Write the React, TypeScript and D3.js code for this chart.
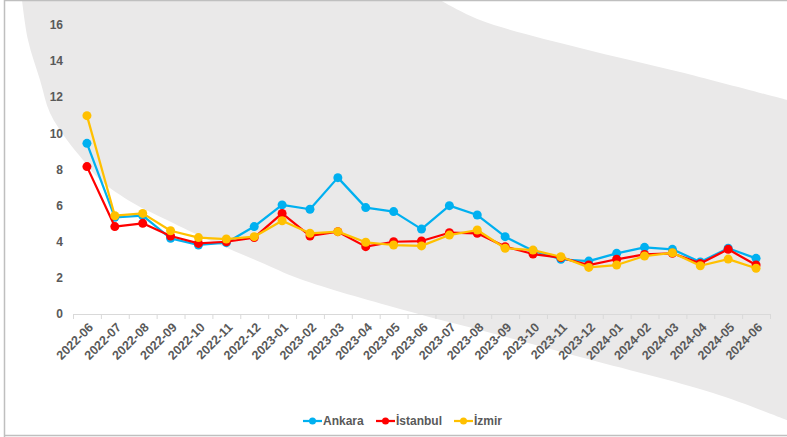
import React from "react";
import * as d3 from "d3";

const months = [
  "2022-06","2022-07","2022-08","2022-09","2022-10","2022-11","2022-12",
  "2023-01","2023-02","2023-03","2023-04","2023-05","2023-06","2023-07","2023-08","2023-09","2023-10","2023-11","2023-12",
  "2024-01","2024-02","2024-03","2024-04","2024-05","2024-06",
];
const ankara = [9.45,5.35,5.44,4.19,3.82,3.95,4.84,6.04,5.8,7.55,5.89,5.67,4.7,6.0,5.48,4.28,3.5,3.03,2.93,3.36,3.69,3.58,2.88,3.64,3.08];
const istanbul = [8.16,4.84,5.02,4.32,3.91,4.0,4.23,5.57,4.32,4.56,3.73,4.0,4.04,4.5,4.47,3.73,3.32,3.12,2.71,3.03,3.3,3.36,2.8,3.58,2.71];
const izmir = [10.98,5.44,5.57,4.61,4.23,4.15,4.28,5.16,4.47,4.56,3.97,3.82,3.77,4.37,4.65,3.64,3.54,3.17,2.58,2.71,3.21,3.39,2.67,3.04,2.53];
const yTicks = [0,2,4,6,8,10,12,14,16];

const series = [
  { name: "Ankara", values: ankara, color: "#00b0f0" },
  { name: "İstanbul", values: istanbul, color: "#ff0000" },
  { name: "İzmir", values: izmir, color: "#ffc000" },
];

// decorative background swoosh outline
const lowerEdge: [number, number][] = [[22,0],[28,40],[40,80],[50,113],[67,140],[83,160],[100,180],[133,203],[167,220],[200,236],[260,262],[300,279],[400,309],[480,330],[580,357],[713,393],[787,420]];
const upperEdge: [number, number][] = [[787,100],[680,72],[580,48],[480,20],[440,0]];

export default function App() {
  const W = 787, H = 437;
  const x = d3.scaleBand<string>().domain(months).range([73, 770]);
  const y = d3.scaleLinear().domain([0, 16]).range([314, 25]);
  const line = d3.line<number>().x((_, i) => (x(months[i]) as number) + x.bandwidth() / 2).y(v => y(v));
  const curve = d3.line().curve(d3.curveCatmullRom);
  const bgPath = curve(lowerEdge)! + "L" + curve(upperEdge)!.slice(1) + "Z";
  const font = "'Liberation Sans', Arial, sans-serif";
  const legendItems = [
    { x: 303, tx: 323 },
    { x: 376, tx: 396 },
    { x: 454, tx: 474 },
  ];
  return (
    <div style={{ position: "fixed", left: 0, top: 0 }}>
      <svg width={W} height={H} style={{ display: "block" }}>
        <rect x={0} y={0} width={W} height={H} fill="#fff" />
        <path d={bgPath} fill="#eae9e9" />
        {/* frame */}
        <path d={`M4.5,${H}V0.5H${W}M4.5,435.5H${W}`} fill="none" stroke="#bfbfbf" strokeWidth={1.5} />
        {/* y labels */}
        {yTicks.map(t => (
          <text key={t} x={63} y={y(t)} dy="0.35em" textAnchor="end" fontFamily={font} fontWeight="bold" fontSize={12} fill="#595959">{t}</text>
        ))}
        {/* x axis */}
        <line x1={73} x2={770} y1={314.5} y2={314.5} stroke="#d9d9d9" strokeWidth={1} />
        {months.map(m => (
          <line key={"t" + m} x1={(x(m) as number) + 0.5} x2={(x(m) as number) + 0.5} y1={314} y2={319} stroke="#d9d9d9" />
        ))}
        <line x1={770.5} x2={770.5} y1={314} y2={319} stroke="#d9d9d9" />
        {months.map(m => {
          const cx = (x(m) as number) + x.bandwidth() / 2 + 4;
          const cy = 325;
          return (
            <text key={"l" + m} x={cx} y={cy} transform={`rotate(-45 ${cx} ${cy})`} textAnchor="end" dy="0.35em" fontFamily={font} fontWeight="bold" fontSize={12.5} fill="#595959">{m}</text>
          );
        })}
        {/* series */}
        {series.map(s => (
          <g key={s.name}>
            <path d={line(s.values)!} fill="none" stroke={s.color} strokeWidth={2.25} strokeLinejoin="round" />
            {s.values.map((v, i) => (
              <circle key={i} cx={(x(months[i]) as number) + x.bandwidth() / 2} cy={y(v)} r={4.5} fill={s.color} />
            ))}
          </g>
        ))}
        {/* legend */}
        {series.map((s, i) => (
          <g key={"lg" + s.name}>
            <line x1={legendItems[i].x} x2={legendItems[i].x + 19} y1={421} y2={421} stroke={s.color} strokeWidth={2.25} />
            <circle cx={legendItems[i].x + 9.5} cy={421} r={3.5} fill={s.color} />
            <text x={legendItems[i].tx} y={421} dy="0.35em" fontFamily={font} fontWeight="bold" fontSize={12} fill="#595959">{s.name}</text>
          </g>
        ))}
      </svg>
    </div>
  );
}
